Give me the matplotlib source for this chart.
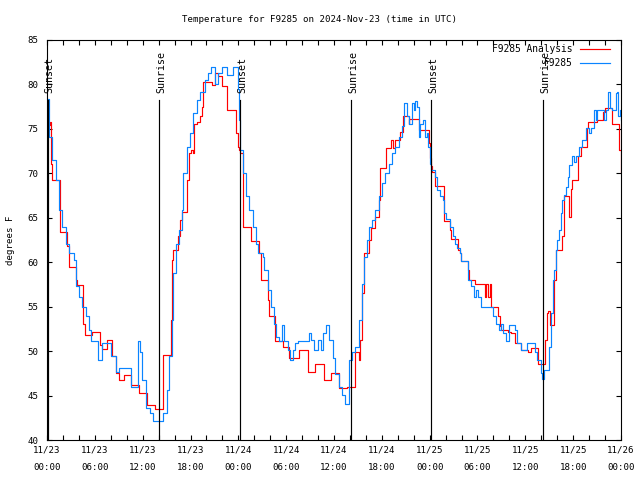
import matplotlib
matplotlib.use('Agg')
import matplotlib.pyplot as plt
import matplotlib.transforms as mtransforms
from matplotlib.ticker import MultipleLocator

# hours after 2024-11-23 00:00 UTC, temperature in degrees F
obs_hours = [0.04, 0.25, 0.67, 1.09, 1.51, 1.92, 2.34, 2.76, 3.39, 3.6, 4.0, 4.43, 4.85, 5.27,
             5.48, 6.1, 6.44, 6.94, 7.57, 7.99, 8.62, 9.03, 9.87, 10.5, 11.33, 11.46, 11.67,
             11.88, 12.42, 12.92, 13.34, 14.39, 14.6, 15.01, 15.35, 15.64, 15.85, 16.19, 16.61,
             16.9, 17.11, 17.52, 17.94, 18.36, 18.78, 19.2, 19.82, 20.24, 20.54, 20.87, 21.08,
             21.5, 21.92, 22.46, 22.63, 22.96, 23.38, 23.8, 23.92, 24.04, 24.21, 24.55, 24.96,
             25.38, 25.8, 26.22, 26.43, 27.06, 27.27, 27.68, 28.1, 28.52, 28.73, 29.06, 29.48,
             29.77, 30.19, 30.49, 30.82, 31.15, 31.5, 32.49, 32.83, 33.12, 33.54, 33.96, 34.38,
             34.67, 35.0, 35.42, 35.84, 36.17, 36.6, 37.01, 37.35, 37.77, 37.93, 38.27, 38.69,
             39.11, 39.52, 39.73, 40.15, 40.36, 40.78, 41.2, 41.62, 42.03, 42.45, 42.87, 43.29,
             43.71, 44.12, 44.54, 44.84, 45.17, 45.46, 45.8, 46.01, 46.22, 46.42, 46.63, 46.84,
             47.14, 47.39, 47.68, 47.8, 48.01, 48.22, 48.64, 48.97, 49.26, 49.68, 49.81, 50.1,
             50.52, 50.94, 51.15, 51.48, 51.77, 51.98, 52.61, 52.82, 53.24, 53.57, 53.86, 54.07,
             54.49, 55.75, 55.96, 56.37, 56.67, 57.0, 57.21, 57.63, 57.92, 58.46, 58.67, 59.01,
             59.51, 60.01, 60.27, 61.02, 61.19, 61.44, 61.73, 61.94, 62.15, 62.36, 62.86, 62.99,
             63.2, 63.41, 63.61, 63.82, 64.03, 64.24, 64.45, 64.66, 64.87, 65.08, 65.29, 65.5,
             65.91, 66.12, 66.33, 66.75, 67.17, 67.59, 68.01, 68.21, 68.63, 68.84, 69.05, 69.68,
             69.89, 70.1, 70.31, 70.43, 70.64, 70.81, 71.14, 71.35, 71.48, 71.64, 71.9, 72.0]
obs_temps = [78.4, 74.1, 71.5, 69.3, 65.9, 64.0, 62.1, 61.0, 60.3, 57.3, 56.1, 55.0, 53.9, 52.4,
             51.1, 51.1, 49.0, 50.9, 50.9, 49.4, 47.7, 48.1, 48.1, 46.0, 46.0, 51.1, 49.9,
             46.8, 43.6, 43.0, 42.1, 42.1, 43.0, 45.6, 49.4, 53.5, 58.8, 62.1, 63.6,
             65.9, 70.0, 73.0, 74.5, 76.8, 78.3, 79.2, 80.5, 81.3, 82.0, 82.0, 80.1,
             81.3, 82.0, 82.0, 81.1, 81.1, 82.0, 82.0, 79.5, 76.0, 72.6, 70.0, 67.4,
             65.9, 64.0, 62.1, 61.0, 60.6, 59.1, 56.9, 55.0, 53.1, 51.6, 51.1, 52.9,
             51.1, 50.1, 49.0, 50.1, 50.9, 51.1, 51.1, 52.0, 51.3, 50.1, 51.3, 50.1,
             52.0, 52.9, 51.3, 49.2, 47.4, 46.0, 45.1, 44.1, 44.1, 49.0, 49.9, 50.5,
             53.5, 57.6, 60.6, 62.5, 64.0, 64.8, 65.9, 67.4, 68.9, 70.0, 71.1, 72.3,
             73.0, 74.1, 75.3, 77.9, 76.4, 75.6, 77.9, 77.1, 78.1, 77.5, 74.1, 75.6,
             76.0, 74.1, 74.5, 73.0, 71.1, 70.4, 69.6, 68.1, 67.4, 67.0, 65.5, 64.9,
             64.0, 62.9, 62.1, 61.6, 61.0, 60.1, 60.1, 58.0, 57.3, 56.1, 56.9, 56.1,
             55.0, 55.0, 53.9, 53.1, 52.4, 53.1, 52.0, 51.1, 52.9, 52.9, 52.4, 50.9,
             50.1, 50.1, 50.9, 50.9, 49.9, 49.0, 49.0, 47.5, 46.9, 47.9, 47.9, 50.5,
             54.3, 58.0, 59.1, 61.4, 62.5, 63.6, 65.5, 67.0, 67.6, 68.5, 69.6, 70.9,
             71.9, 71.3, 72.0, 73.0, 73.8, 75.1, 74.5, 75.1, 77.1, 76.0, 77.1, 77.1,
             76.0, 77.1, 77.5, 79.2, 77.3, 77.1, 77.1, 79.0, 79.2, 76.4, 77.1, 76.0]

ana_hours = [0.0, 0.38, 0.46, 0.54, 0.67, 1.51, 1.59, 1.63, 2.34, 2.47, 2.76, 3.39, 3.6, 3.81,
             4.43, 4.56, 4.73, 5.48, 5.69, 6.44, 6.65, 6.94, 7.49, 7.57, 7.99, 8.2, 8.62, 9.03,
             9.45, 9.66, 10.29, 10.58, 11.33, 11.54, 12.59, 13.55, 14.47, 14.6, 15.43, 15.52,
             15.64, 15.85, 16.35, 16.48, 16.69, 16.9, 17.44, 17.61, 17.86, 18.07, 18.28, 18.49,
             18.86, 19.2, 19.41, 19.61, 20.45, 20.66, 21.08, 21.5, 21.92, 22.54, 23.59, 23.75,
             23.92, 24.09, 24.21, 24.46, 24.55, 24.63, 25.3, 25.59, 26.43, 26.64, 26.85, 27.56,
             27.77, 27.89, 28.31, 28.64, 29.48, 29.65, 30.19, 30.4, 31.57, 31.66, 32.49, 32.7,
             33.54, 33.66, 34.67, 34.79, 35.42, 35.63, 36.6, 36.68, 37.64, 38.56, 38.69, 39.02,
             39.19, 39.32, 39.52, 39.82, 40.28, 40.44, 40.7, 40.99, 41.2, 41.53, 41.62, 41.82,
             42.45, 42.58, 42.87, 43.2, 43.41, 43.71, 44.33, 44.63, 45.17, 45.38, 45.46, 46.63,
             46.72, 47.47, 47.89, 48.01, 48.13, 48.3, 48.64, 48.72, 49.68, 49.77, 50.31, 50.52,
             50.73, 51.35, 51.56, 51.77, 51.98, 52.61, 52.82, 52.9, 53.45, 53.66, 54.91, 54.99,
             55.12, 55.33, 55.54, 55.75, 56.16, 56.58, 56.79, 57.0, 57.84, 58.26, 58.67, 59.3,
             59.51, 60.35, 60.69, 61.44, 61.61, 62.36, 62.44, 62.69, 62.86, 63.11, 63.41, 63.61,
             63.82, 64.53, 64.66, 64.79, 65.37, 65.5, 65.7, 65.91, 66.54, 66.63, 66.96, 67.59,
             67.71, 67.8, 68.84, 69.05, 69.68, 69.8, 69.97, 70.64, 70.81, 71.56, 71.77, 71.98,
             72.0]
ana_temps = [75.4, 75.8, 74.1, 71.1, 69.3, 69.3, 67.8, 63.4, 63.4, 61.8, 59.5, 59.5, 58.0, 57.4,
             57.4, 53.1, 51.8, 51.8, 52.1, 52.1, 50.7, 50.2, 50.2, 51.3, 51.3, 49.4, 47.5, 46.8,
             46.8, 47.3, 47.3, 46.2, 46.2, 45.3, 43.9, 43.5, 43.5, 49.6, 49.6, 53.5,
             60.3, 61.4, 61.4, 62.9, 64.8, 65.7, 65.7, 69.3, 72.3, 72.6, 72.3, 75.6,
             75.8, 76.4, 77.5, 80.3, 80.3, 79.9, 81.3, 80.9, 79.8, 77.1, 77.1, 74.5,
             73.0, 72.6, 72.3, 72.3, 68.1, 64.0, 64.0, 62.4, 62.4, 61.0, 58.0, 58.0,
             55.8, 53.9, 53.9, 51.1, 51.1, 50.5, 50.5, 49.2, 49.2, 50.1, 50.1, 47.7,
             47.7, 48.6, 48.6, 46.8, 46.8, 47.5, 47.5, 45.8, 46.0, 46.0, 49.9, 49.9,
             49.0, 51.3, 56.5, 61.0, 61.0, 62.5, 63.8, 63.8, 65.1, 65.1, 67.0, 70.6,
             70.6, 72.8, 72.8, 73.8, 72.8, 73.8, 74.7, 76.4, 76.4, 75.6, 76.1, 76.1,
             74.9, 74.9, 73.4, 71.7, 70.8, 70.2, 70.2, 68.6, 68.6, 64.6, 64.6, 63.6,
             62.6, 62.6, 61.4, 61.0, 60.1, 60.1, 59.1, 58.0, 58.0, 57.6, 57.6, 56.1,
             57.6, 56.1, 57.6, 55.0, 55.0, 53.9, 52.8, 52.4, 52.2, 52.0, 50.9, 50.9,
             50.1, 49.9, 50.3, 50.3, 48.6, 48.6, 51.3, 54.3, 54.5, 52.9, 52.9, 58.0,
             61.4, 61.4, 62.9, 67.4, 67.4, 65.1, 68.2, 69.3, 69.3, 71.9, 73.0, 73.0,
             75.1, 75.8, 75.8, 76.0, 76.0, 76.9, 77.3, 77.3, 75.6, 75.6, 72.6, 70.2,
             70.2]

sun_hours = [0.1, 14.05, 24.2, 38.18, 48.22, 62.27]
sun_labels = ['Sunset', 'Sunrise', 'Sunset', 'Sunrise', 'Sunset', 'Sunrise']

tick_hours = list(range(0, 73, 6))
tick_labels = ['11/23\n00:00', '11/23\n06:00', '11/23\n12:00', '11/23\n18:00',
               '11/24\n00:00', '11/24\n06:00', '11/24\n12:00', '11/24\n18:00',
               '11/25\n00:00', '11/25\n06:00', '11/25\n12:00', '11/25\n18:00',
               '11/26\n00:00']

plt.rcParams['font.family'] = 'DejaVu Sans Mono'
plt.rcParams['font.size'] = 6.6

fig = plt.figure(figsize=(6.4, 4.8), dpi=100)
ax = fig.add_axes([47 / 640, 40 / 480, 574 / 640, 400 / 480])

ax.plot(ana_hours, ana_temps, color='#ff0000', lw=0.85, drawstyle='steps-post',
        label='F9285 Analysis')
ax.plot(obs_hours, obs_temps, color='#0a84ff', lw=0.85, drawstyle='steps-post',
        label='F9285')

trans = mtransforms.blended_transform_factory(ax.transData, ax.transAxes)
for h, name in zip(sun_hours, sun_labels):
    ax.plot([h, h], [0, 0.85], color='black', lw=0.85, transform=trans)
    ax.text(h + 0.25, 0.868, name, rotation=90, ha='center', va='bottom',
            transform=trans, fontsize=7.2)

ax.set_xlim(0, 72)
ax.set_ylim(40, 85)
ax.set_xticks(tick_hours)
ax.set_xticklabels(tick_labels)
for lbl in ax.get_xticklabels():
    lbl.set_linespacing(2.15)
ax.xaxis.set_minor_locator(MultipleLocator(2))
ax.yaxis.set_major_locator(MultipleLocator(5))
ax.tick_params(which='both', direction='in', top=True, right=True, length=3.5, width=0.8,
               colors='black')
ax.tick_params(axis='x', pad=4)
ax.tick_params(axis='y', pad=6)
for s in ax.spines.values():
    s.set_linewidth(0.8)

ax.set_ylabel('degrees F', labelpad=9)
fig.text(0.5, 1 - 19 / 480, 'Temperature for F9285 on 2024-Nov-23 (time in UTC)',
         ha='center', va='center')

ax.legend(loc='upper right', bbox_to_anchor=(610 / 640, 1 - 44 / 480),
          bbox_transform=fig.transFigure, markerfirst=False, frameon=False,
          handlelength=3.1, handletextpad=0.8, borderpad=0, borderaxespad=0,
          labelspacing=0.42, fontsize=6.9)

fig.savefig('out.png', dpi=100)
